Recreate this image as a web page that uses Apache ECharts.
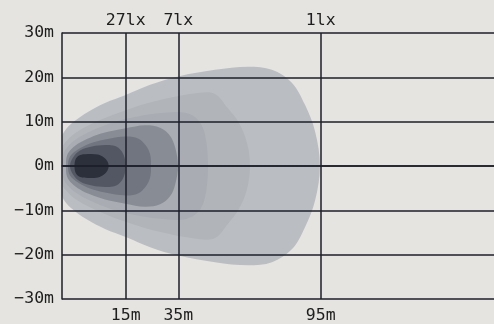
<!DOCTYPE html>
<html><head><meta charset="utf-8">
<script src="https://cdn.jsdelivr.net/npm/echarts@6/dist/echarts.min.js"></script>
<style>html,body{margin:0;padding:0;background:#e5e4e0}#c{width:494px;height:324px}</style>
</head><body><div id="c"></div>
<script>
// Y axis ticks (metres, lateral)
const yTicks = [-30, -20, -10, 0, 10, 20, 30];
// Positions of the distance lines on the plot's horizontal scale, and their labels
const distPositions = [14.75, 26.92, 59.88];
const distLabels = ['15m', '35m', '95m'];
const luxLabels = ['27lx', '7lx', '1lx'];

// Iso-lux zones, outlines [x, y]
const zoneA = [[0,6.5],[1.0,8.4],[3.0,10.2],[6.0,12.2],[9.95,14.2],[14.75,16.0],[20.4,18.3],[26.9,20.2],[35.4,21.7],[43.1,22.4],[48.6,21.7],[53.2,18.8],[56.25,13.8],[58.6,7.75],[59.7,0],[58.6,-7.75],[56.25,-13.8],[53.2,-18.8],[48.6,-21.7],[43.1,-22.4],[35.4,-21.7],[26.9,-20.2],[20.4,-18.3],[14.75,-16.0],[9.95,-14.2],[6.0,-12.2],[3.0,-10.2],[1.0,-8.4],[0,-6.5]];
const zoneB = [[0,4.0],[1.4,6.0],[3.0,7.4],[6.0,9.1],[9.95,10.8],[14.75,12.6],[21.5,14.6],[31.9,16.5],[35.5,16.2],[38.4,13.0],[40.9,9.8],[42.8,5.3],[43.5,0],[42.8,-5.3],[40.9,-9.8],[38.4,-13.0],[35.5,-16.2],[31.9,-16.5],[21.5,-14.6],[14.75,-12.6],[9.95,-10.8],[6.0,-9.1],[3.0,-7.4],[1.4,-6.0],[0,-4.0]];
const zoneB2 = [[0.2,2.4],[1.85,4.9],[4.17,6.6],[7.64,8.3],[12.3,10.0],[18.1,11.3],[23.8,12.0],[28.5,12.0],[31.5,10.4],[33.1,7.1],[33.8,0],[33.1,-7.1],[31.5,-10.4],[28.5,-12.0],[23.8,-12.0],[18.1,-11.3],[12.3,-10.0],[7.64,-8.3],[4.17,-6.6],[1.85,-4.9],[0.2,-2.4]];
const zoneC = [[0.93,0],[1.16,2.36],[2.31,3.93],[4.17,5.28],[6.48,6.4],[9.95,7.53],[14.75,8.5],[19.2,9.2],[22.7,8.65],[25.0,6.85],[26.2,4.16],[26.85,0],[26.2,-4.16],[25.0,-6.85],[22.7,-8.65],[19.2,-9.2],[14.75,-8.5],[9.95,-7.53],[6.48,-6.4],[4.17,-5.28],[2.31,-3.93],[1.16,-2.36]];
const zoneD = [[1.39,0],[1.85,2.13],[3.7,3.7],[6.48,5.06],[9.95,5.96],[14.75,6.63],[17.6,6.18],[19.4,4.6],[20.4,2.58],[20.6,0],[20.4,-2.58],[19.4,-4.6],[17.6,-6.18],[14.75,-6.63],[9.95,-5.96],[6.48,-5.06],[3.7,-3.7],[1.85,-2.13]];
const zoneE = [[1.85,0],[2.55,1.91],[4.17,3.48],[6.94,4.38],[9.95,4.72],[12.27,4.49],[13.66,3.48],[14.47,1.91],[14.7,0],[14.47,-1.91],[13.66,-3.48],[12.27,-4.49],[9.95,-4.72],[6.94,-4.38],[4.17,-3.48],[2.55,-1.91]];
const zoneF = [[2.9,0],[3.125,1.46],[3.94,2.36],[6.02,2.7],[8.33,2.58],[9.72,1.91],[10.53,1.01],[10.81,0],[10.53,-1.01],[9.72,-1.91],[8.33,-2.58],[6.02,-2.7],[3.94,-2.36],[3.125,-1.46]];

const zones = [
  {pts: zoneA, color: '#babdc2'},
  {pts: zoneB, color: '#b1b4b9'},
  {pts: zoneB2, color: '#a9acb2'},
  {pts: zoneC, color: '#888c94'},
  {pts: zoneD, color: '#71757f'},
  {pts: zoneE, color: '#535764'},
  {pts: zoneF, color: '#2c303b'}
];

const lineColor = '#1c1f2a';
const labelFont = {fontFamily: 'DejaVu Sans Mono', fontSize: 16.5, color: '#1e1e1e'};

function zoneSeries(zone, i) {
  return {
    type: 'custom', coordinateSystem: 'cartesian2d', xAxisIndex: 0, yAxisIndex: 0,
    data: zone.pts, silent: true, z: 1 + i * 0.01, clip: true, animation: false,
    encode: {x: 0, y: 1},
    renderItem: function (params, api) {
      if (params.dataIndex !== 0) return null;
      return {
        type: 'polygon',
        shape: {points: zone.pts.map(p => api.coord(p)), smooth: 0.35},
        style: {fill: zone.color}
      };
    }
  };
}

const chart = echarts.init(document.getElementById('c'), null, {renderer: 'canvas'});
chart.setOption({
  backgroundColor: '#e5e4e0',
  animation: false,
  grid: {left: 62, right: 0, top: 33, bottom: 24},
  xAxis: [
    {
      type: 'value', min: 0, max: 100, position: 'bottom', z: 5,
      axisLine: {show: true, lineStyle: {color: lineColor, width: 1.5}},
      axisTick: {show: false, customValues: distPositions},
      splitLine: {show: true, lineStyle: {color: lineColor, width: 1.5}},
      axisLabel: Object.assign({
        customValues: distPositions, margin: 8,
        formatter: v => distLabels[distPositions.indexOf(v)]
      }, labelFont)
    },
    {
      type: 'value', min: 0, max: 100, position: 'top', z: 5,
      axisLine: {show: false},
      axisTick: {show: false, customValues: distPositions},
      splitLine: {show: false},
      axisLabel: Object.assign({
        customValues: distPositions, margin: 4,
        formatter: v => luxLabels[distPositions.indexOf(v)]
      }, labelFont)
    }
  ],
  yAxis: {
    type: 'value', min: yTicks[0], max: yTicks[yTicks.length - 1], interval: yTicks[1] - yTicks[0], z: 5,
    axisLine: {show: true, lineStyle: {color: lineColor, width: 1.5}},
    axisTick: {show: false},
    splitLine: {show: true, lineStyle: {color: lineColor, width: 1.5}},
    axisLabel: Object.assign({
      margin: 8,
      formatter: v => (v < 0 ? '\u2212' + (-v) : v) + 'm'
    }, labelFont)
  },
  series: zones.map(zoneSeries)
});
</script>
</body></html>
